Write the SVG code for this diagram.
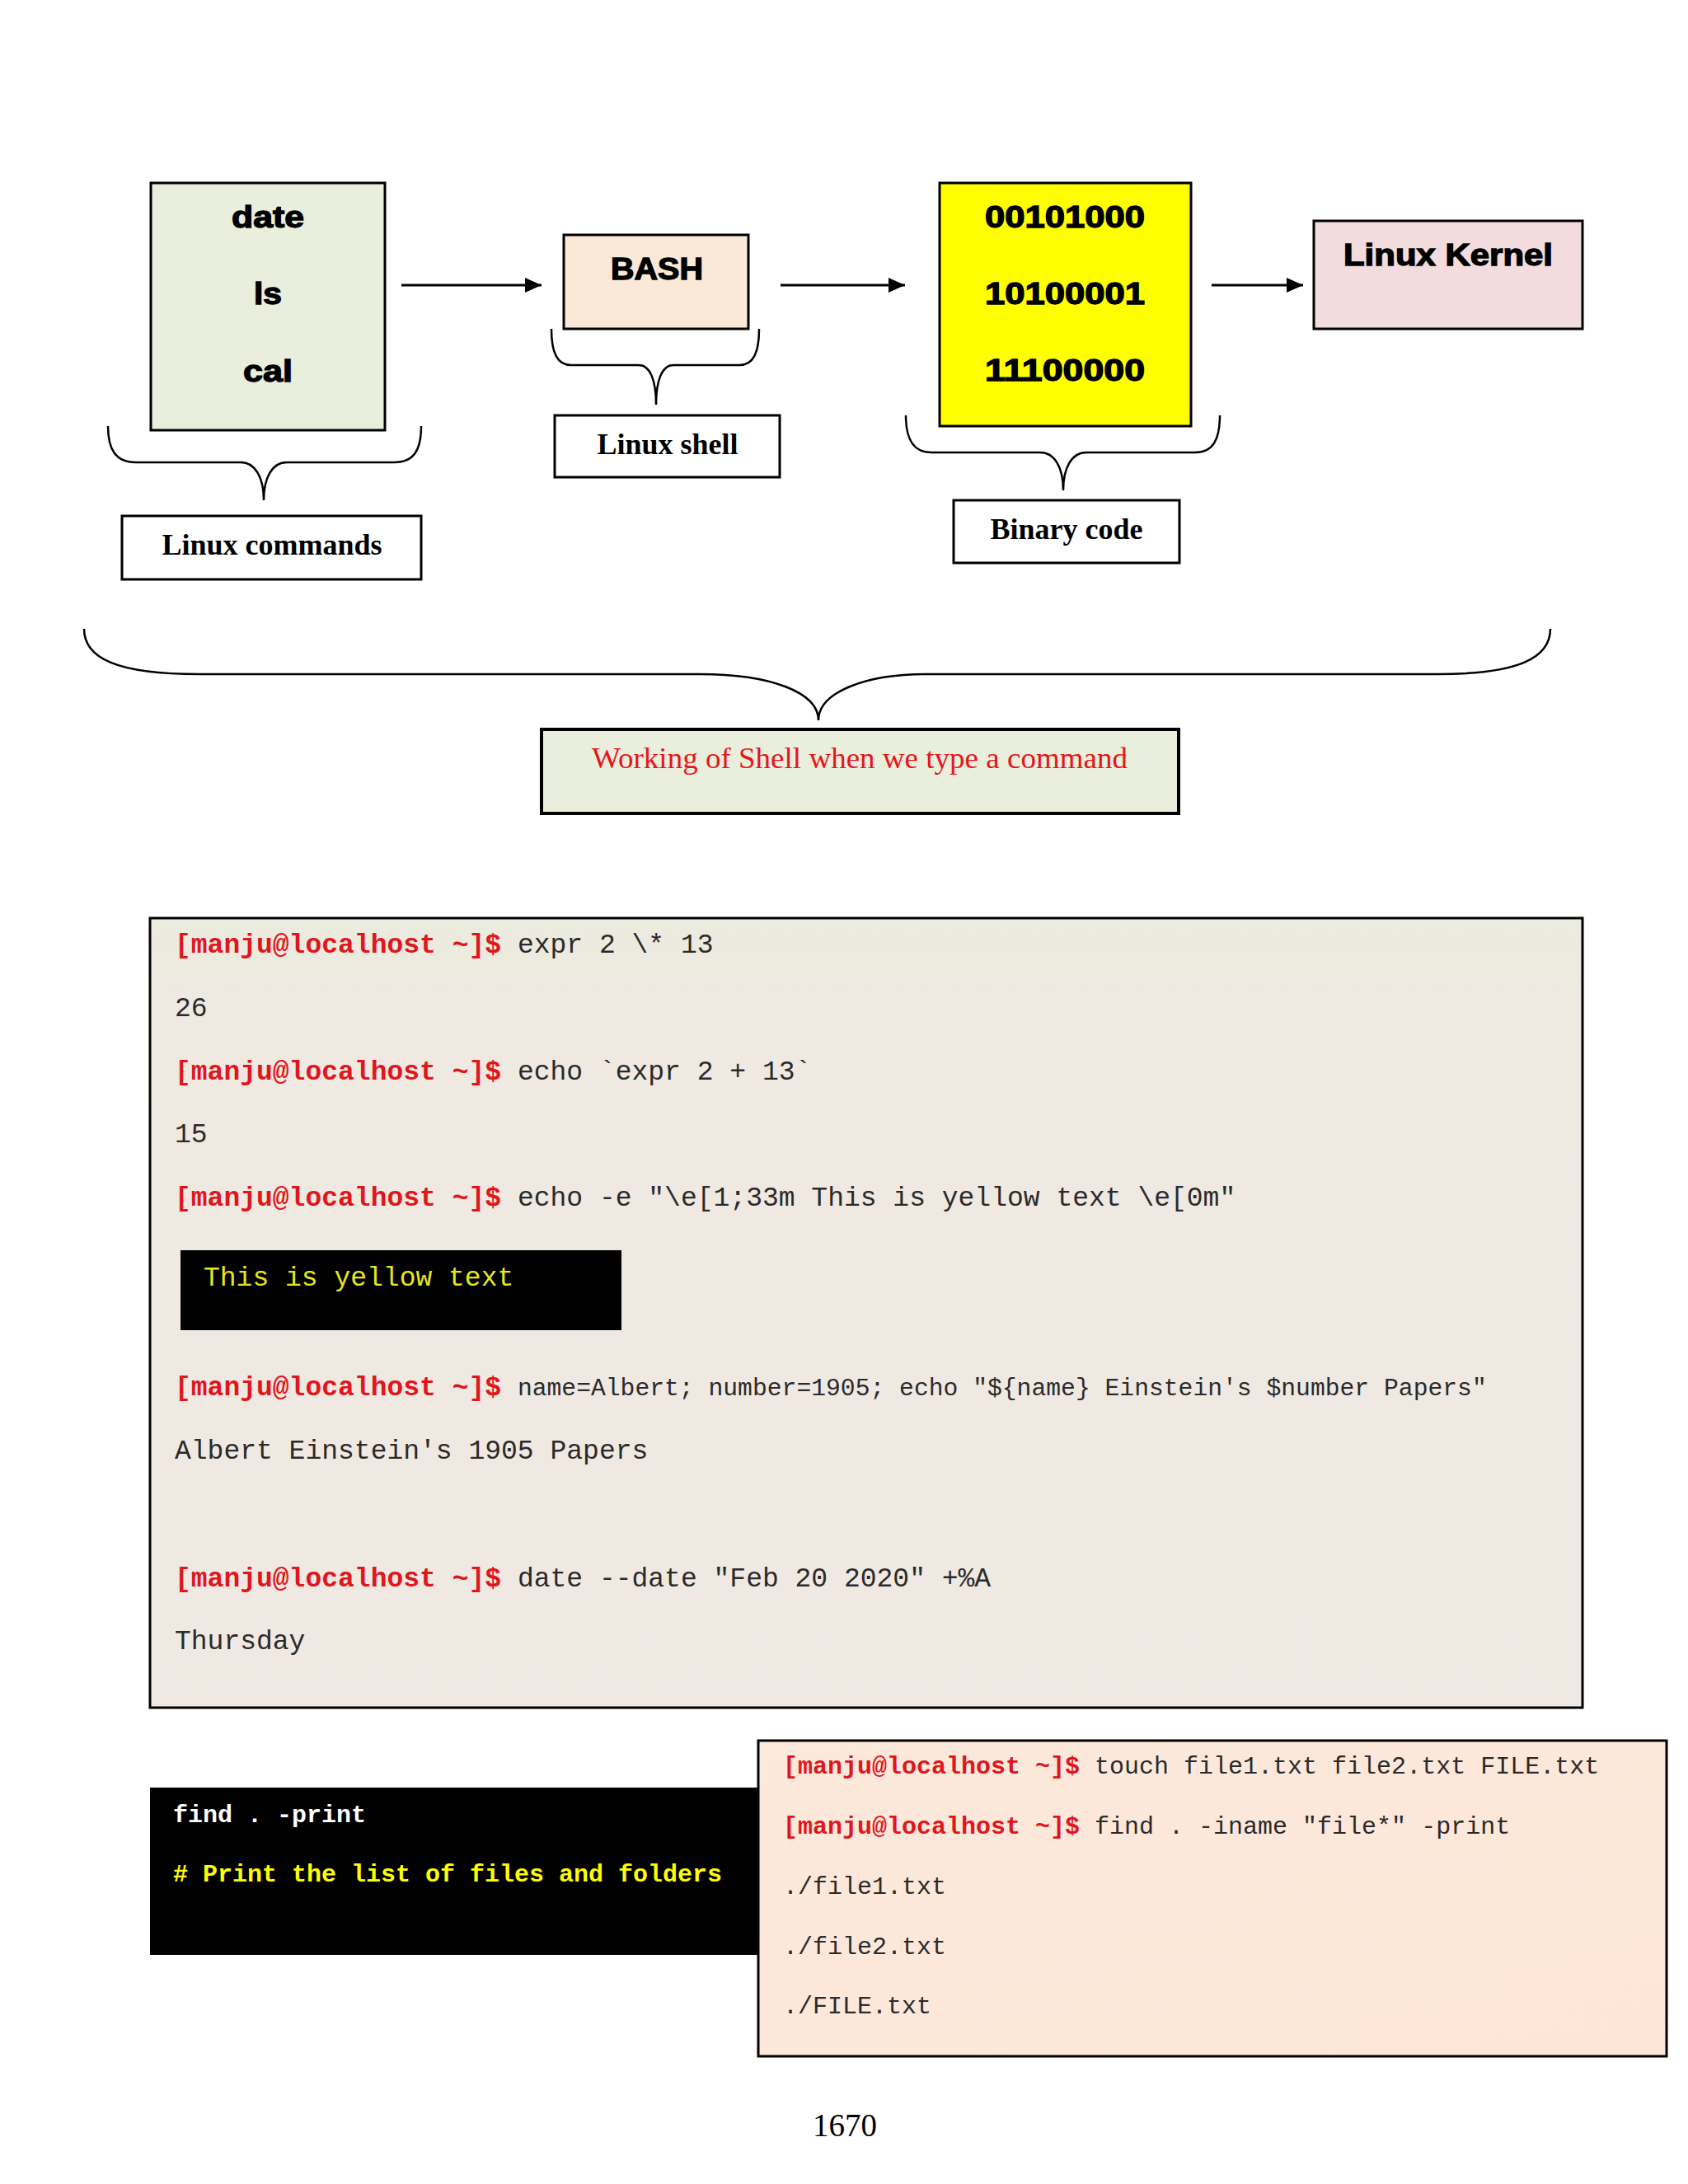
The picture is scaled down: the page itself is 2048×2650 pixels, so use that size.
<svg xmlns="http://www.w3.org/2000/svg" width="2048" height="2650" viewBox="0 0 2048 2650">
<defs>
<marker id="ah" markerWidth="20" markerHeight="18" refX="20" refY="9" orient="auto" markerUnits="userSpaceOnUse">
<path d="M0,0 L20,9 L0,18 Z" fill="#000"/>
</marker>
<linearGradient id="termbg" x1="0" y1="0" x2="0" y2="1">
<stop offset="0" stop-color="#ECEBDF"/>
<stop offset="0.15" stop-color="#EFE9E2"/>
<stop offset="1" stop-color="#F0E9E3"/>
</linearGradient>
<linearGradient id="peachbg" x1="0" y1="0" x2="1" y2="1">
<stop offset="0" stop-color="#FCE9DC"/>
<stop offset="1" stop-color="#FDE6D8"/>
</linearGradient>
</defs>
<style>
.box{stroke:#000;stroke-width:3}
.blk{font-family:"Liberation Sans",Arial,sans-serif;font-weight:bold;font-size:36px;fill:#000;stroke:#000;stroke-width:1.3px;text-anchor:middle}
.tms{font-family:"Liberation Serif","Times New Roman",serif;font-weight:bold;font-size:36px;fill:#000;text-anchor:middle}
.brace{fill:none;stroke:#000;stroke-width:2.5}
.conn{stroke:#000;stroke-width:3;fill:none}
.mono{font-family:"Liberation Mono","Courier New",monospace;font-size:33px;fill:#2a2a2a}
.pr{font-weight:bold;fill:#E0161C}
.m30{font-size:30px}
</style>
<rect width="2048" height="2650" fill="#fff"/>

<g id="commands">
<rect class="box" x="183" y="222" width="284" height="300" fill="#E9EEDD"/>
<text class="blk" x="325" y="276" textLength="88" lengthAdjust="spacingAndGlyphs">date</text>
<text class="blk" x="325" y="369" textLength="34" lengthAdjust="spacingAndGlyphs">ls</text>
<text class="blk" x="325" y="463" textLength="60" lengthAdjust="spacingAndGlyphs">cal</text>
</g>
<g id="bash">
<rect class="box" x="684" y="285" width="224" height="114" fill="#FBE9D7"/>
<text class="blk" x="797" y="339" textLength="112" lengthAdjust="spacingAndGlyphs">BASH</text>
</g>
<g id="binary">
<rect class="box" x="1140" y="222" width="305" height="295" fill="#FFFF00"/>
<text class="blk" x="1292" y="276" textLength="194" lengthAdjust="spacingAndGlyphs">00101000</text>
<text class="blk" x="1292" y="369" textLength="194" lengthAdjust="spacingAndGlyphs">10100001</text>
<text class="blk" x="1292" y="462" textLength="194" lengthAdjust="spacingAndGlyphs">11100000</text>
</g>
<g id="kernel">
<rect class="box" x="1594" y="268" width="326" height="131" fill="#F2DCDE"/>
<text class="blk" x="1757" y="322" textLength="254" lengthAdjust="spacingAndGlyphs">Linux Kernel</text>
</g>
<g id="label-commands">
<rect class="box" x="148" y="626" width="363" height="77" fill="#fff"/>
<text class="tms" x="330" y="673">Linux commands</text>
</g>
<g id="label-shell">
<rect class="box" x="673" y="504" width="273" height="75" fill="#fff"/>
<text class="tms" x="810" y="551">Linux shell</text>
</g>
<g id="label-binary">
<rect class="box" x="1157" y="607" width="274" height="76" fill="#fff"/>
<text class="tms" x="1294" y="654">Binary code</text>
</g>
<g id="caption">
<rect x="657" y="885" width="773" height="102" fill="#E9EFDC" stroke="#000" stroke-width="4"/>
<text x="1043" y="932" font-family="'Liberation Serif','Times New Roman',serif" font-size="36" fill="#E8141B" text-anchor="middle" textLength="650" lengthAdjust="spacingAndGlyphs">Working of Shell when we type a command</text>
</g>

<g id="connectors">
<line class="conn" x1="487" y1="346" x2="657" y2="346" marker-end="url(#ah)"/>
<line class="conn" x1="947" y1="346" x2="1098" y2="346" marker-end="url(#ah)"/>
<line class="conn" x1="1470" y1="346" x2="1581" y2="346" marker-end="url(#ah)"/>
<path class="brace" d="M131,517 C131,545 140,561 165,561 L292,561 C310,561 320,580 320,607 C320,580 330,561 348,561 L478,561 C503,561 511,545 511,517"/>
<path class="brace" d="M669,399 C669,428 676,443 693,443 L775,443 C789,443 796,462 796,491 C796,462 803,443 817,443 L897,443 C914,443 921,428 921,399"/>
<path class="brace" d="M1099,504 C1099,533 1108,549 1130,549 L1262,549 C1280,549 1290,568 1290,595 C1290,568 1300,549 1318,549 L1450,549 C1472,549 1480,533 1480,504"/>
<path class="brace" d="M102,763 C102,798 140,818 242,818 L849,818 C935,818 993,840 993,874 C993,840 1050,818 1123,818 L1744,818 C1843,818 1881,798 1881,763"/>
</g>

<g id="terminal">
<rect class="box" x="182" y="1114" width="1738" height="958" fill="url(#termbg)"/>
<text class="mono" x="212" y="1156"><tspan class="pr">[manju@localhost ~]$</tspan> expr 2 \* 13</text>
<text class="mono" x="212" y="1233">26</text>
<text class="mono" x="212" y="1310"><tspan class="pr">[manju@localhost ~]$</tspan> echo `expr 2 + 13`</text>
<text class="mono" x="212" y="1386">15</text>
<text class="mono" x="212" y="1463"><tspan class="pr">[manju@localhost ~]$</tspan> echo -e "\e[1;33m This is yellow text \e[0m"</text>
<rect x="219" y="1517" width="535" height="97" fill="#000"/>
<text class="mono" x="247" y="1560" style="fill:#E6E61E">This is yellow text</text>
<text class="mono" x="212" y="1693"><tspan class="pr">[manju@localhost ~]$</tspan> <tspan font-size="29.7">name=Albert; number=1905; echo "${name} Einstein's $number Papers"</tspan></text>
<text class="mono" x="212" y="1770">Albert Einstein's 1905 Papers</text>
<text class="mono" x="212" y="1925"><tspan class="pr">[manju@localhost ~]$</tspan> date --date "Feb 20 2020" +%A</text>
<text class="mono" x="212" y="2001">Thursday</text>
</g>

<g id="find-note">
<rect x="182" y="2169" width="740" height="203" fill="#000"/>
<text class="mono m30" x="210" y="2211" font-weight="bold" style="fill:#fff">find . -print</text>
<text class="mono m30" x="210" y="2283" font-weight="bold" style="fill:#FFFF00"># Print the list of files and folders</text>
</g>

<g id="find-example">
<rect class="box" x="920" y="2112" width="1102" height="383" fill="url(#peachbg)"/>
<text class="mono m30" x="950" y="2152"><tspan class="pr">[manju@localhost ~]$</tspan> touch file1.txt file2.txt FILE.txt</text>
<text class="mono m30" x="950" y="2225"><tspan class="pr">[manju@localhost ~]$</tspan> find . -iname "file*" -print</text>
<text class="mono m30" x="950" y="2298">./file1.txt</text>
<text class="mono m30" x="950" y="2371">./file2.txt</text>
<text class="mono m30" x="950" y="2443">./FILE.txt</text>
</g>

<text x="1025" y="2592" font-family="'Liberation Serif','Times New Roman',serif" font-size="39" fill="#000" text-anchor="middle">1670</text>
</svg>
